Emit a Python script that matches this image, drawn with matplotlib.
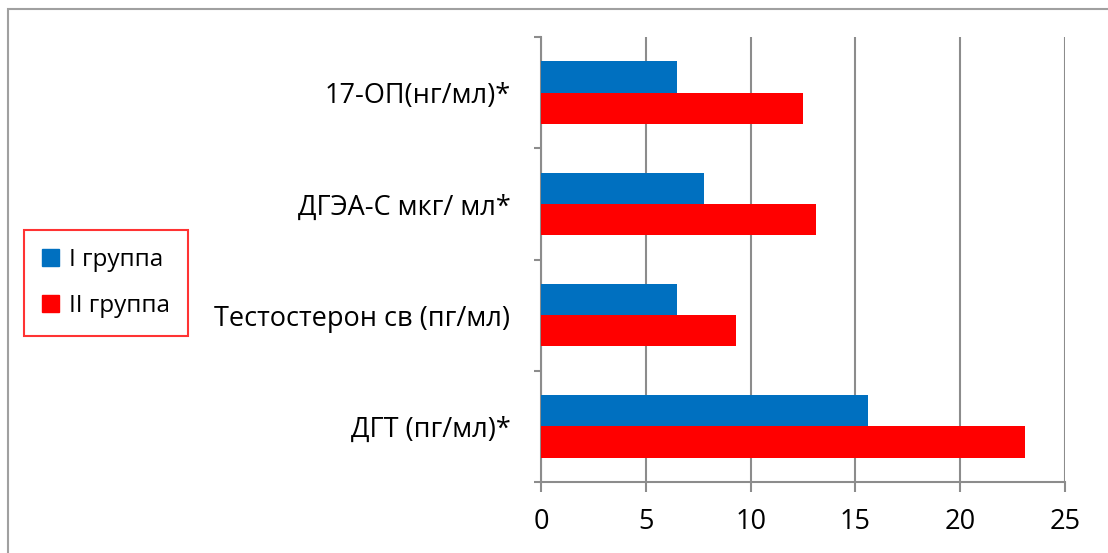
import matplotlib.pyplot as plt
import numpy as np
from matplotlib.patches import Rectangle, Patch

plt.rcParams['font.family'] = ['Open Sans', 'DejaVu Sans']

categories = ['ДГТ (пг/мл)*', 'Тестостерон св (пг/мл)', 'ДГЭА-С мкг/ мл*', '17-ОП(нг/мл)*']
group1 = [15.6, 6.5, 7.8, 6.5]
group2 = [23.1, 9.3, 13.1, 12.5]
series_names = ['I группа', 'II группа']
xticks = [0, 5, 10, 15, 20, 25]

fig = plt.figure(figsize=(11.08, 5.53), dpi=100)
fig.patches.append(Rectangle((8 / 1108, -0.1), 1.2, 1 - 9 / 553 + 0.1,
                             transform=fig.transFigure, fill=False,
                             edgecolor='#a0a0a0', linewidth=1.5))

ax = fig.add_axes([541 / 1108, 71 / 553, 524 / 1108, 445 / 553])

y = np.arange(len(categories))
h = 0.28
ax.barh(y + h / 2, group1, height=h, color='#0070c0', label=series_names[0], zorder=3)
ax.barh(y - h / 2, group2, height=h, color='#ff0000', label=series_names[1], zorder=3)

ax.set_xlim(0, 25)
ax.set_ylim(-0.5, len(categories) - 0.5)
ax.set_xticks(xticks)
ax.xaxis.grid(True, color='#8c8c8c', linewidth=1.5, zorder=0)

ax.set_yticks(y)
ax.set_yticklabels(categories, fontsize=19.5)
ax.set_yticks(np.arange(len(categories) + 1) - 0.5, minor=True)
ax.tick_params(axis='y', which='major', length=0, pad=22)
ax.tick_params(axis='y', which='minor', length=5, width=1.5, color='#8c8c8c')
ax.tick_params(axis='x', length=7, width=1.5, color='#8c8c8c', labelsize=19.5, pad=12)

for s in ['top', 'right']:
    ax.spines[s].set_visible(False)
for s in ['left', 'bottom']:
    ax.spines[s].set_color('#8c8c8c')
    ax.spines[s].set_linewidth(1.5)

handles = [Patch(color='#0070c0'), Patch(color='#ff0000')]
leg = fig.legend(handles, series_names, loc='center left',
                 bbox_to_anchor=(24 / 1108, 1 - 283 / 553), borderaxespad=0,
                 fontsize=17.5, frameon=True, fancybox=False,
                 handlelength=0.7, handleheight=0.7, handletextpad=0.4,
                 labelspacing=0.9, borderpad=0.75)
leg.get_frame().set_edgecolor('#ff0000')
leg.get_frame().set_linewidth(1.5)

fig.savefig('out.png', dpi=100)
